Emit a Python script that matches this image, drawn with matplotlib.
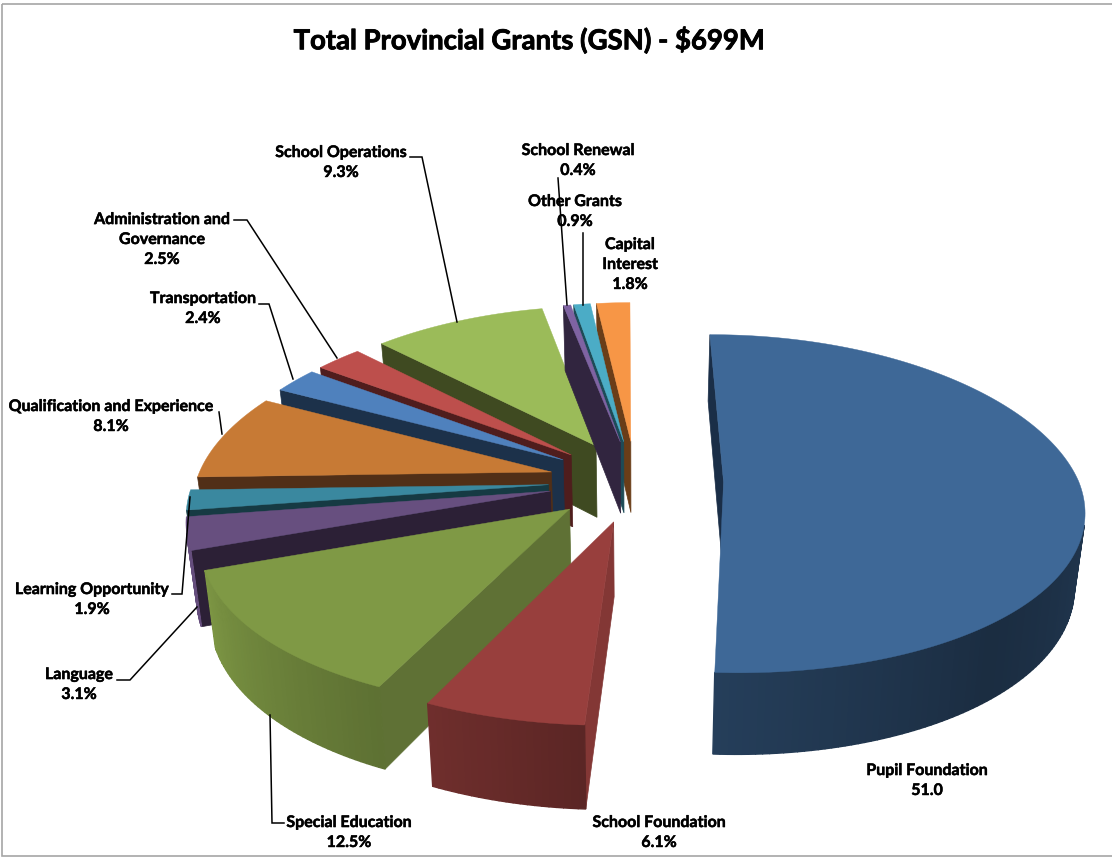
import numpy as np
import matplotlib.pyplot as plt
import matplotlib.patheffects as pe
from matplotlib.colors import to_rgb
from matplotlib.patches import Rectangle

names = ["Pupil Foundation", "School Foundation", "Special Education", "Language",
         "Learning Opportunity", "Qualification and Experience", "Transportation",
         "Administration and Governance", "School Operations", "School Renewal",
         "Other Grants", "Capital Interest"]
shares = [51.0, 6.1, 12.5, 3.1, 1.9, 8.1, 2.4, 2.5, 9.3, 0.4, 0.9, 1.8]
share_text = ["51.0", "6.1%", "12.5%", "3.1%", "1.9%", "8.1%", "2.4%", "2.5%", "9.3%",
              "0.4%", "0.9%", "1.8%"]
title = "Total Provincial Grants (GSN) - $699M"

# colours per slice: top face, cut face
top_colors = ["#3e6897", "#983f3d", "#7f9945", "#674f7f", "#3a889f", "#c77a35",
              "#4f81bd", "#bd4f4c", "#9bbb59", "#7f63a2", "#4bacc6", "#f79646"]
cut_colors = ["#1a2e47", "#833735", "#5f7135", "#2c2036", "#163a43", "#512f17",
              "#1c314a", "#4f1d1d", "#3f4a21", "#31253f", "#1d4b57", "#6a3d18"]
# far slices first, near slices painted over them
draw_order = [11, 10, 8, 9, 7, 6, 5, 4, 3, 2, 1, 0]

# pie projection
CX, CY = 636, 481
A, B = 355, 166
K_NEAR, K_FAR, K_Y = 0.148, 0.16, 0.128
EXPLODE = 0.2465
ROTATION = -0.3


def project(px, py):
    px, py = np.asarray(px, float), np.asarray(py, float)
    wx = 1 + np.where(py > 0, K_FAR, K_NEAR) * py
    wy = 1 + K_Y * py
    return CX + A * px / wx, CY - B * py / wy


def drop(x, y):
    # bottom face of the extruded pie
    return CX + (x - CX) * 0.976, y + 71 + 0.045 * (y - 437)


def rim_shade(t):
    return np.interp(t, [90, 140, 184, 206, 251, 270], [0.55, 0.43, 0.6, 0.74, 0.98, 1.0])


def wall(ax, p, q, color, lw=0.5):
    x0, y0 = p
    x1, y1 = q
    xa, ya = drop(x0, y0)
    xb, yb = drop(x1, y1)
    xs = np.array([x0, x1, xb, xa])
    ys = np.array([y0, y1, yb, ya])
    area = 0.5 * np.sum(xs * np.roll(ys, -1) - np.roll(xs, -1) * ys)
    if area < 0:
        ax.fill(xs, ys, color=color, lw=lw)


def draw_slice(ax, t0, t1, top, cut):
    bis = np.radians((t0 + t1) / 2)
    ox, oy = EXPLODE * np.sin(bis), EXPLODE * np.cos(bis)
    ts = np.linspace(t0, t1, max(int(t1 - t0) + 2, 3))
    rx, ry = project(ox + np.sin(np.radians(ts)), oy + np.cos(np.radians(ts)))
    apex = project(ox, oy)

    wall(ax, apex, (rx[0], ry[0]), cut)
    wall(ax, (rx[-1], ry[-1]), apex, cut)
    base = np.array(to_rgb(top))
    for i in range(len(ts) - 1):
        shade = rim_shade((ts[i] + ts[i + 1]) / 2)
        wall(ax, (rx[i], ry[i]), (rx[i + 1], ry[i + 1]), tuple(base * shade), lw=1.0)

    ax.fill(np.r_[apex[0], rx], np.r_[apex[1], ry], color=top, lw=0.3)


fig = plt.figure(figsize=(11.12, 8.57), dpi=100)
ax = fig.add_axes([0, 0, 1, 1])
ax.set_xlim(0, 1112)
ax.set_ylim(857, 0)
ax.axis("off")

ax.add_patch(Rectangle((1.5, 3.5), 1120, 852, fill=False, ec="#a6a6a6", lw=1.2))

angles = ROTATION + 360 * np.r_[0, np.cumsum(shares)] / np.sum(shares)
for i in draw_order:
    draw_slice(ax, angles[i], angles[i + 1], top_colors[i], cut_colors[i])

# leader lines
leaders = [
    ([410, 422, 457], [157, 157, 322]),
    ([558, 567], [178, 305]),
    ([583, 583], [233, 305]),
    ([234, 247, 337], [220, 220, 358]),
    ([259, 269, 293], [304, 304, 379]),
    ([219, 222], [412, 434]),
    ([172, 182, 190], [594, 594, 497]),
    ([117, 130, 197], [680, 680, 607]),
    ([284, 272, 270], [823, 823, 715]),
]
for xs, ys in leaders:
    ax.plot(xs, ys, color="black", lw=1.1, solid_joinstyle="miter")

heavier = [pe.withStroke(linewidth=0.35, foreground="black")]

label_x = [927, 659, 349, 79, 92, 111, 203, 162, 341, 578, 575, 630]
label_y = [781, 833, 833, 685, 600, 417, 309, 240, 163, 161, 212, 265]
wrapped = {7: "Administration and\nGovernance", 11: "Capital\nInterest"}
for i, name in enumerate(names):
    text = wrapped.get(i, name) + "\n" + share_text[i]
    ax.text(label_x[i], label_y[i], text, ha="center", va="center", family="Lato",
            weight="bold", fontsize=11.5, linespacing=1.54, color="black",
            path_effects=heavier)

ax.text(529, 40, title, ha="center", va="center", family="Lato", weight="bold",
        fontsize=19.8, color="black",
        path_effects=[pe.withStroke(linewidth=0.6, foreground="black")])

fig.savefig("out.png", dpi=100)
